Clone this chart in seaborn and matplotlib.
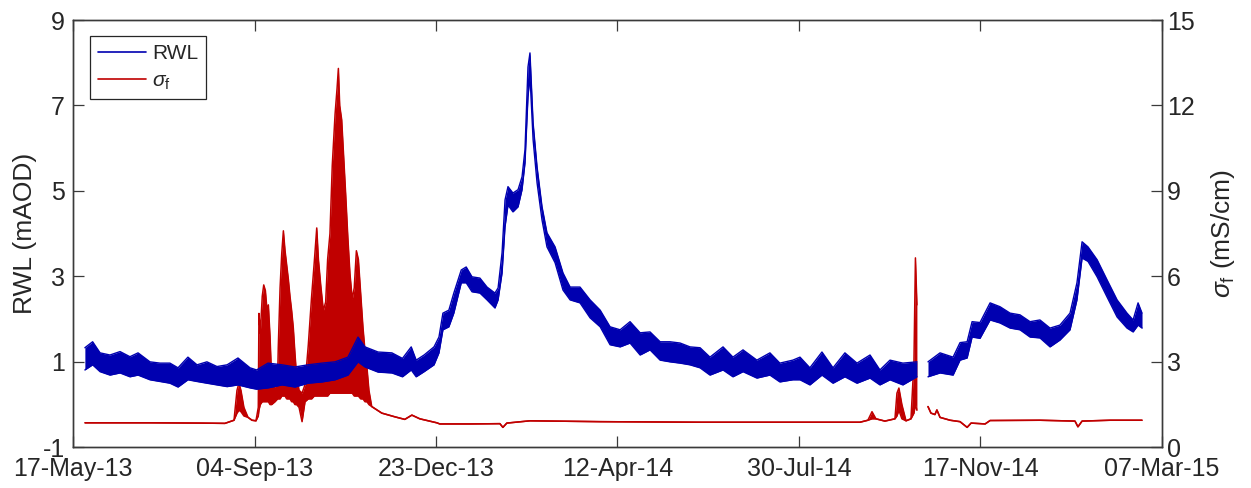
import numpy as np
import pandas as pd
import matplotlib
matplotlib.use("Agg")
import matplotlib.pyplot as plt
import matplotlib.dates as mdates
from matplotlib.lines import Line2D
import seaborn as sns

start = pd.Timestamp("2013-05-17")
end = pd.Timestamp("2015-03-07")

# River water level: days since start, lower/upper edge of the tidal band (mAOD)
rwl_day = [7.0, 11.7, 16.2, 22.2, 28.3, 34.3, 39.2, 46.4, 52.5, 58.5,
           63.4, 69.4, 74.9, 80.9, 87.0, 93.1, 99.7, 107.0, 111.0, 117.9,
           126.4, 134.2, 142.1, 150.6, 158.5, 166.3, 172.4, 176.6, 184.5, 192.9,
           199.3, 204.6, 207.6, 212.4, 218.4, 221.4, 223.8, 227.4, 230.4, 234.9,
           237.9, 241.4, 246.2, 250.5, 255.3, 257.2, 259.6, 261.4, 263.2, 266.2,
           269.3, 271.7, 273.5, 275.3, 276.5, 278.4, 280.8, 283.8, 286.8, 291.7,
           296.5, 300.8, 306.8, 312.9, 319.0, 325.0, 331.1, 337.1, 343.2, 349.2,
           355.3, 361.3, 367.4, 373.4, 379.5, 385.5, 393.4, 399.4, 405.5, 413.9,
           421.8, 427.8, 435.7, 440.0, 446.0, 453.3, 460.0, 467.2, 474.5, 482.4,
           488.4, 494.5, 502.3, 510.8, 514.0, 517.5, 524.8, 532.7, 536.9, 541.2,
           544.2, 549.0, 555.1, 561.1, 567.2, 573.2, 579.3, 585.3, 591.4, 597.4,
           603.5, 607.7, 610.8, 614.4, 619.9, 625.9, 632.0, 638.0, 641.7, 644.7,
           647.1]
rwl_low = [0.81, 0.93, 0.77, 0.69, 0.74, 0.65, 0.69, 0.58, 0.54, 0.50,
           0.41, 0.58, 0.54, 0.50, 0.46, 0.42, 0.46, 0.39, 0.36, 0.39,
           0.46, 0.41, 0.50, 0.53, 0.58, 0.69, 1.00, 0.88, 0.76, 0.74,
           0.65, 0.81, 0.65, 0.77, 0.93, 1.21, 1.75, 1.82, 2.14, 2.85,
           2.85, 2.64, 2.61, 2.45, 2.26, 2.45, 3.08, 4.16, 4.67, 4.51,
           4.63, 5.03, 5.66, 7.20, 7.70, 6.20, 5.19, 4.32, 3.69, 3.32,
           2.68, 2.45, 2.38, 2.03, 1.82, 1.40, 1.35, 1.44, 1.16, 1.28,
           1.04, 1.00, 0.97, 0.93, 0.86, 0.69, 0.81, 0.65, 0.77, 0.62,
           0.69, 0.53, 0.58, 0.58, 0.46, 0.69, 0.50, 0.65, 0.50, 0.62,
           0.46, 0.58, 0.46, 0.65, np.nan, 0.65, 0.74, 0.69, 1.04, 1.09,
           1.58, 1.55, 1.98, 1.91, 1.79, 1.75, 1.58, 1.56, 1.35, 1.51,
           1.75, 2.45, 3.43, 3.35, 2.99, 2.52, 2.05, 1.79, 1.70, 1.86,
           1.79]
rwl_high = [1.33, 1.47, 1.21, 1.16, 1.24, 1.12, 1.21, 1.00, 0.97, 0.97,
            0.86, 1.11, 0.93, 1.00, 0.89, 0.93, 1.09, 0.86, 0.81, 0.97,
            0.93, 0.88, 0.93, 0.97, 1.00, 1.11, 1.58, 1.35, 1.23, 1.21,
            1.08, 1.35, 1.04, 1.16, 1.35, 1.58, 2.14, 2.21, 2.61, 3.15,
            3.22, 2.99, 2.96, 2.75, 2.61, 2.73, 3.55, 4.79, 5.10, 4.95,
            5.03, 5.33, 5.97, 7.90, 8.23, 6.59, 5.56, 4.63, 4.02, 3.69,
            3.08, 2.75, 2.75, 2.45, 2.21, 1.82, 1.75, 1.94, 1.68, 1.70,
            1.47, 1.47, 1.44, 1.35, 1.33, 1.11, 1.35, 1.11, 1.28, 1.04,
            1.21, 0.97, 1.04, 1.11, 0.86, 1.23, 0.86, 1.21, 0.97, 1.16,
            0.81, 1.04, 0.97, 1.00, np.nan, 1.00, 1.21, 1.11, 1.45, 1.47,
            1.94, 1.92, 2.38, 2.29, 2.14, 2.10, 1.94, 1.98, 1.79, 1.86,
            2.14, 2.85, 3.81, 3.69, 3.39, 2.92, 2.45, 2.14, 1.98, 2.38,
            2.14]

# Fluid conductivity: days since start, lower/upper edge of the signal (mS/cm)
sig_day = [7.1, 46.4, 76.7, 91.8, 97.3, 99.1, 100.3, 101.5, 103.3, 105.8,
           108.2, 110.6, 112.0, 112.4, 113.2, 114.4, 115.3, 116.3, 117.3, 118.1,
           119.1, 120.1, 122.1, 123.7, 124.1, 125.2, 126.2, 127.2, 128.2, 129.2,
           130.2, 131.2, 132.2, 133.2, 134.2, 135.2, 136.7, 138.5, 140.3, 142.3,
           144.3, 145.9, 147.4, 148.4, 149.8, 151.4, 152.8, 154.0, 155.4, 156.8,
           158.5, 159.7, 160.5, 161.3, 162.5, 163.7, 164.9, 166.2, 167.5, 168.9,
           170.1, 171.4, 172.6, 174.0, 175.4, 176.6, 177.8, 179.0, 180.7, 186.8,
           194.7, 200.7, 205.0, 209.8, 220.1, 221.9, 240.1, 258.3, 260.1, 262.5,
           276.5, 319.0, 379.5, 440.0, 476.3, 481.1, 483.6, 486.0, 491.4, 497.5,
           498.7, 499.9, 501.7, 504.2, 507.2, 509.0, 509.9, 510.8, 514.0, 517.5,
           519.3, 521.7, 522.9, 524.8, 530.9, 536.9, 541.2, 543.6, 552.1, 555.1,
           585.3, 606.5, 608.3, 610.8, 627.7, 647.1]
sig_low = [0.86, 0.86, 0.85, 0.84, 0.95, 1.20, 1.30, 1.25, 1.10, 1.05,
           0.95, 0.93, 1.10, 1.30, 1.50, 1.60, 1.60, 1.60, 1.60, 1.60,
           1.50, 1.50, 1.60, 1.70, 1.70, 1.70, 1.80, 1.80, 1.80, 1.70,
           1.70, 1.70, 1.60, 1.60, 1.50, 1.50, 1.40, 0.90, 1.60, 1.70,
           1.70, 1.80, 1.80, 1.80, 1.80, 1.80, 1.80, 1.80, 1.90, 1.90,
           1.90, 1.90, 1.90, 1.90, 1.90, 1.90, 1.90, 1.90, 1.90, 1.90,
           1.80, 1.80, 1.80, 1.70, 1.70, 1.60, 1.60, 1.50, 1.43, 1.20,
           1.07, 0.98, 1.13, 1.00, 0.86, 0.82, 0.82, 0.83, 0.70, 0.85,
           0.93, 0.90, 0.88, 0.88, 0.88, 0.95, 1.00, 1.00, 0.92, 1.00,
           1.10, 1.30, 1.00, 0.93, 1.00, 1.20, 1.50, 1.30, np.nan, 1.43,
           1.20, 1.15, 1.31, 1.05, 0.95, 0.90, 0.70, 0.85, 0.82, 0.94,
           0.95, 0.92, 0.72, 0.92, 0.95, 0.95]
sig_high = [0.86, 0.86, 0.85, 0.84, 0.95, 2.00, 2.25, 2.00, 1.40, 1.05,
            0.95, 0.93, 1.40, 4.70, 4.00, 5.30, 5.70, 5.50, 4.80, 5.00,
            3.90, 2.40, 2.10, 2.40, 3.50, 5.60, 6.80, 7.60, 6.90, 6.40,
            5.90, 5.30, 4.80, 4.20, 3.30, 2.50, 2.00, 1.90, 2.20, 3.60,
            5.30, 6.50, 7.70, 6.60, 5.70, 4.80, 5.10, 6.60, 7.50, 9.90,
            11.70, 12.60, 13.30, 12.00, 11.50, 10.20, 8.90, 7.40, 6.10, 5.20,
            5.60, 6.90, 6.60, 5.40, 4.20, 3.40, 2.80, 2.00, 1.43, 1.20,
            1.07, 0.98, 1.13, 1.00, 0.86, 0.82, 0.82, 0.83, 0.70, 0.85,
            0.93, 0.90, 0.88, 0.88, 0.88, 0.95, 1.25, 1.00, 0.92, 1.00,
            1.90, 2.08, 1.50, 0.93, 1.00, 3.00, 6.65, 5.00, np.nan, 1.43,
            1.20, 1.15, 1.31, 1.05, 0.95, 0.90, 0.70, 0.85, 0.82, 0.94,
            0.95, 0.92, 0.72, 0.92, 0.95, 0.95]

tick_labels = ["17-May-13", "04-Sep-13", "23-Dec-13", "12-Apr-14",
               "30-Jul-14", "17-Nov-14", "07-Mar-15"]

sns.set_theme(style="white")
plt.rcParams["font.family"] = ["Liberation Sans", "DejaVu Sans"]
plt.rcParams["mathtext.fontset"] = "custom"
plt.rcParams["mathtext.rm"] = "Liberation Sans"
plt.rcParams["mathtext.it"] = "Liberation Sans:italic"
plt.rcParams["mathtext.sf"] = "Liberation Sans"
plt.rcParams["axes.unicode_minus"] = False

BLUE = "#0000B0"
RED = "#C00000"
AXC = "#3a3a3a"
TXT = "#262626"


def segments(day, low, high):
    """Split a record at its missing values into continuous pieces."""
    df = pd.DataFrame({"date": start + pd.to_timedelta(day, unit="D"),
                       "low": low, "high": high})
    df["seg"] = df["low"].isna().cumsum()
    return [g.dropna() for _, g in df.groupby("seg") if g["low"].notna().any()]


fig = plt.figure(figsize=(12.51, 4.88), dpi=100)
ax1 = fig.add_axes([0.0586, 0.0834, 0.8700, 0.8756])
ax2 = ax1.twinx()
ax1.set_zorder(ax2.get_zorder() + 1)
ax1.patch.set_visible(False)

for seg in segments(rwl_day, rwl_low, rwl_high):
    ax1.fill_between(seg["date"], seg["low"], seg["high"], color=BLUE, lw=0)
    for col in ("low", "high"):
        sns.lineplot(data=seg, x="date", y=col, ax=ax1, color=BLUE, lw=1.0,
                     estimator=None, sort=False)

for seg in segments(sig_day, sig_low, sig_high):
    ax2.fill_between(seg["date"], seg["low"], seg["high"], color=RED, lw=0)
    for col in ("low", "high"):
        sns.lineplot(data=seg, x="date", y=col, ax=ax2, color=RED, lw=1.1,
                     estimator=None, sort=False)

ax1.set_xlim(mdates.date2num(start), mdates.date2num(end))
ax1.set_xticks(np.linspace(mdates.date2num(start), mdates.date2num(end), 7))
ax1.set_xticklabels(tick_labels)
ax1.set_ylim(-1, 9)
ax1.set_yticks([-1, 1, 3, 5, 7, 9])
ax2.set_ylim(0, 15)
ax2.set_yticks([0, 3, 6, 9, 12, 15])

ax1.set_xlabel("")
ax2.set_xlabel("")
ax1.set_ylabel("RWL (mAOD)", fontsize=19, color=TXT, labelpad=4)
ax2.set_ylabel(r"$\sigma_\mathrm{f}$ (mS/cm)", fontsize=19, color=TXT, labelpad=10)

ax1.tick_params(axis="x", direction="in", length=8, width=0.9, color=AXC,
                top=True, bottom=True, labelsize=18, labelcolor=TXT, pad=7)
ax1.tick_params(axis="y", direction="in", length=8, width=0.9, color=AXC,
                left=True, right=False, labelsize=18, labelcolor=TXT, pad=6)
ax2.tick_params(axis="y", direction="in", length=8, width=0.9, color=AXC,
                right=True, left=False, labelsize=18, labelcolor=TXT, pad=4)
ax2.tick_params(axis="x", which="both", bottom=False, top=False,
                labelbottom=False, labeltop=False)

for ax in (ax1, ax2):
    for sp in ax.spines.values():
        sp.set_visible(True)
        sp.set_color(AXC)
        sp.set_linewidth(1.0)

handles = [Line2D([], [], color=BLUE, lw=1.2), Line2D([], [], color=RED, lw=1.2)]
leg = ax1.legend(handles, ["RWL", r"$\sigma_\mathrm{f}$"], loc="upper left",
                 bbox_to_anchor=(0.0153, 0.9626), borderaxespad=0, frameon=True,
                 fancybox=False, edgecolor="#262626", framealpha=1, fontsize=15,
                 handlelength=2.3, handletextpad=0.3, labelspacing=0.4,
                 borderpad=0.38)
leg.get_frame().set_linewidth(0.9)
for t in leg.get_texts():
    t.set_color(TXT)

fig.savefig("out.png", dpi=100)
